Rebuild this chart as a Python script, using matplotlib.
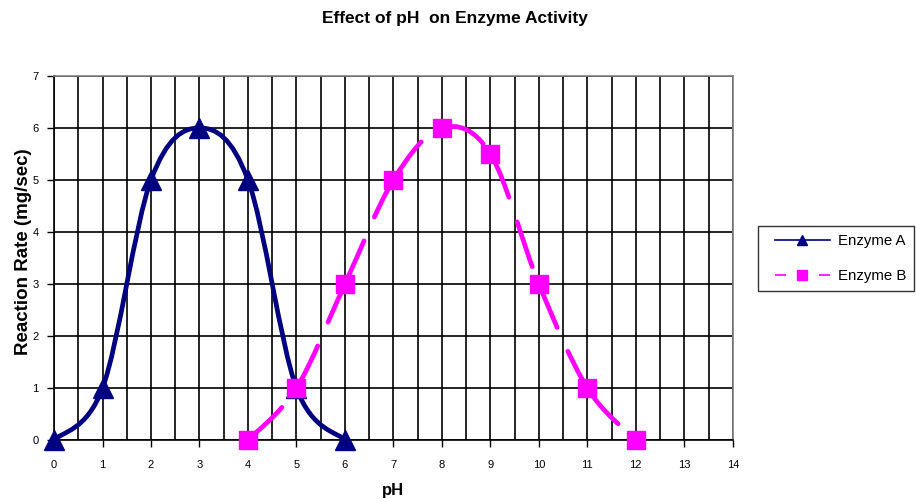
import matplotlib
matplotlib.use("Agg")
import matplotlib.pyplot as plt
from matplotlib.path import Path
from matplotlib.patches import PathPatch
from matplotlib.lines import Line2D
from matplotlib.legend_handler import HandlerLine2D
import numpy as np

plt.rcParams['font.family'] = ['Liberation Sans', 'DejaVu Sans']

ph_a = [0, 1, 2, 3, 4, 5, 6]
rate_a = [0, 1, 5, 6, 5, 1, 0]
ph_b = [4, 5, 6, 7, 8, 9, 10, 11, 12]
rate_b = [0, 1, 3, 5, 6, 5.5, 3, 1, 0]
x_ticks = list(range(0, 15))
y_ticks = list(range(0, 8))

NAVY = '#000080'
PINK = '#FF00FF'

def smooth_segments(xs, ys):
    """Catmull-Rom style Bezier segments between consecutive data points."""
    pts = np.column_stack([xs, ys]).astype(float)
    n = len(pts)
    segs = []
    for i in range(n - 1):
        p0 = pts[i - 1] if i > 0 else pts[i]
        p1 = pts[i]
        p2 = pts[i + 1]
        p3 = pts[i + 2] if i + 2 < n else pts[i + 1]
        c1 = p1 + (p2 - p0) / 6.0
        c2 = p2 - (p3 - p1) / 6.0
        segs.append(Path([p1, c1, c2, p2],
                         [Path.MOVETO, Path.CURVE4, Path.CURVE4, Path.CURVE4]))
    return segs

fig = plt.figure(figsize=(9.16, 4.99), dpi=100)
ax = fig.add_axes([0.059, 0.118, 0.741, 0.730])
ax.set_xlim(0, 14)
ax.set_ylim(0, 7)

ax.set_xticks(x_ticks)
ax.set_xticks(np.arange(0.5, 14, 1.0), minor=True)
ax.set_yticks(y_ticks)
ax.grid(True, which='both', axis='x', color='black', linewidth=1.2)
ax.grid(True, which='major', axis='y', color='black', linewidth=1.2)
ax.set_axisbelow(True)
ax.tick_params(axis='both', which='major', labelsize=8, length=5, width=1, color='black')
ax.tick_params(axis='x', which='major', pad=9)
ax.tick_params(axis='y', which='major', pad=6)
ax.tick_params(axis='x', which='minor', length=0)
for s in ['left', 'bottom']:
    ax.spines[s].set_color('black')
    ax.spines[s].set_linewidth(1.2)
for s in ['top', 'right']:
    ax.spines[s].set_color('#808080')
    ax.spines[s].set_linewidth(1.2)

for seg in smooth_segments(ph_a, rate_a):
    ax.add_patch(PathPatch(seg, facecolor='none', edgecolor=NAVY, lw=3.4, zorder=3,
                           clip_on=False, capstyle='round', joinstyle='round'))
for seg in smooth_segments(ph_b, rate_b):
    ax.add_patch(PathPatch(seg, facecolor='none', edgecolor=PINK, lw=3.4, zorder=3,
                           linestyle=(0, (10, 5.5)), clip_on=False,
                           capstyle='round', joinstyle='round'))
ax.plot(ph_a, rate_a, linestyle='none', marker='^', markersize=14, color=NAVY, zorder=4, clip_on=False)
ax.plot(ph_b, rate_b, linestyle='none', marker='s', markersize=13.5, color=PINK, zorder=4, clip_on=False)

ax.set_xlabel('pH', fontsize=12, fontweight='bold', labelpad=10)
ax.set_ylabel('Reaction Rate (mg/sec)', fontsize=13.5, fontweight='bold')
ax.yaxis.set_label_coords(-0.0325, 0.516)
fig.text(0.497, 0.962, 'Effect of pH  on Enzyme Activity', ha='center', va='center',
         fontsize=12.5, fontweight='bold')

handles = [
    Line2D([], [], color=NAVY, lw=1.2, marker='^', markersize=7.5),
    Line2D([], [], color=PINK, lw=1.2, marker='s', markersize=7.5, linestyle=(0, (6.6, 6.6))),
]
hm = {h: HandlerLine2D(xpad=0.627) for h in handles}
leg = fig.legend(handles, ['Enzyme A', 'Enzyme B'], loc='center left',
                 bbox_to_anchor=(0.8275, 0.482), frameon=True, fancybox=False,
                 edgecolor='black', fontsize=10.8, handlelength=4.29, borderpad=0.5,
                 labelspacing=1.43, handletextpad=0.53, borderaxespad=0,
                 handler_map=hm)
leg.get_frame().set_linewidth(1.0)

fig.savefig('out.png', dpi=100)
